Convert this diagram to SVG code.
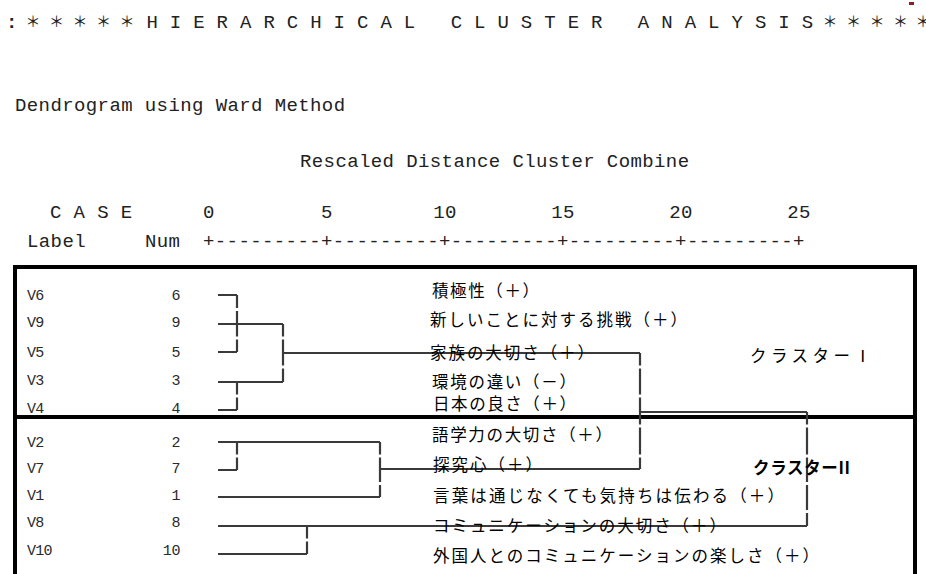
<svg xmlns="http://www.w3.org/2000/svg" width="926" height="574" viewBox="0 0 926 574">
<style>
.mono{font-family:"Liberation Mono","DejaVu Sans Mono",monospace;font-size:19px;letter-spacing:0.4px;fill:#222}
.ttl{font-family:"Liberation Mono","DejaVu Sans Mono",monospace;font-size:19px;letter-spacing:0.3px;fill:#222}
.ast{font-family:"Noto Sans CJK JP",sans-serif;font-size:15px;fill:#222;text-anchor:middle}
.case{font-family:"Liberation Mono","DejaVu Sans Mono",monospace;font-size:15px;letter-spacing:-0.8px;fill:#2a2a2a}
.num{font-family:"Liberation Mono","DejaVu Sans Mono",monospace;font-size:15px;letter-spacing:-0.4px;fill:#2a2a2a;text-anchor:end}
.jp{font-family:"Noto Sans CJK JP",sans-serif;font-size:16.5px;fill:#000}
.tick{text-anchor:middle}
.den{fill:none;stroke:#3a3a3a;stroke-width:2.2}
.frame{fill:none;stroke:#000;stroke-width:4}
</style>
<rect width="926" height="574" fill="#fff"/>
<g id="title">
<text class="ttl" x="6" y="28" font-weight="bold">:</text>
<text class="ast" x="33" y="27">＊</text>
<text class="ast" x="56.5" y="27">＊</text>
<text class="ast" x="80" y="27">＊</text>
<text class="ast" x="103.5" y="27">＊</text>
<text class="ast" x="127" y="27">＊</text>
<text class="ttl" x="146.4" y="28">H&#160;I&#160;E&#160;R&#160;A&#160;R&#160;C&#160;H&#160;I&#160;C&#160;A&#160;L&#160;&#160;&#160;C&#160;L&#160;U&#160;S&#160;T&#160;E&#160;R&#160;&#160;&#160;A&#160;N&#160;A&#160;L&#160;Y&#160;S&#160;I&#160;S</text>
<text class="ast" x="830" y="27">＊</text>
<text class="ast" x="853.5" y="27">＊</text>
<text class="ast" x="877" y="27">＊</text>
<text class="ast" x="900.5" y="27">＊</text>
<text class="ast" x="923" y="27">＊</text>
<rect x="909" y="2" width="5" height="3" fill="#8b1e1e"/>
</g>
<g id="headers">
<text class="mono" x="15" y="111">Dendrogram using Ward Method</text>
<text class="mono" x="300" y="167">Rescaled Distance Cluster Combine</text>
<text class="mono" x="50" y="218">C A S E</text>
<text class="mono tick" x="209" y="218">0</text>
<text class="mono tick" x="327" y="218">5</text>
<text class="mono tick" x="445" y="218">10</text>
<text class="mono tick" x="563" y="218">15</text>
<text class="mono tick" x="681" y="218">20</text>
<text class="mono tick" x="799" y="218">25</text>
<text class="mono" x="27" y="247">Label</text>
<text class="mono" x="145" y="247">Num</text>
<text class="mono" x="203" y="247">+---------+---------+---------+---------+---------+</text>
</g>
<g id="frame">
<rect class="frame" x="15" y="267" width="900" height="330"/>
<line class="frame" x1="15" y1="417" x2="915" y2="417"/>
</g>
<g id="connectors">
<path class="den" d="M218 295H237M218 324H283M218 352H237M218 382H283M218 410H237M283 353H640M218 442H380M218 470H237M218 497H380M380 469H640M218 526H807M218 554H307M640 412H807"/>
<path class="den" d="M237 295V308M237 311V336.5M237 339.5V352M237 382V394.5M237 397.5V410M283 324V336.5M283 339.5V365.5M283 368.5V382M237 442V454.5M237 457.5V470M380 442V454.5M380 457.5V482M380 485V497M307 526V538.5M307 541.5V554M640 353V365.5M640 368.5V394.5M640 397.5V424.5M640 427.5V454.5M640 457.5V469M807 412V424.5M807 427.5V454.5M807 457.5V482M807 485V510M807 513V526"/>
</g>
<g id="V6"><text class="case" x="27" y="300">V6</text><text class="num" x="180" y="300">6</text><text class="jp" x="432" y="297" textLength="107">積極性（＋）</text></g>
<g id="V9"><text class="case" x="27" y="327">V9</text><text class="num" x="180" y="327">9</text><text class="jp" x="430" y="326" textLength="257">新しいことに対する挑戦（＋）</text></g>
<g id="V5"><text class="case" x="27" y="357">V5</text><text class="num" x="180" y="357">5</text><text class="jp" x="430" y="359" textLength="164">家族の大切さ（＋）</text></g>
<g id="V3"><text class="case" x="27" y="385">V3</text><text class="num" x="180" y="385">3</text><text class="jp" x="432" y="388" textLength="144">環境の違い（－）</text></g>
<g id="V4"><text class="case" x="27" y="413">V4</text><text class="num" x="180" y="413">4</text><text class="jp" x="433" y="409.5" textLength="143">日本の良さ（＋）</text></g>
<g id="V2"><text class="case" x="27" y="447">V2</text><text class="num" x="180" y="447">2</text><text class="jp" x="432" y="441" textLength="180">語学力の大切さ（＋）</text></g>
<g id="V7"><text class="case" x="27" y="473">V7</text><text class="num" x="180" y="473">7</text><text class="jp" x="433" y="471" textLength="109">探究心（＋）</text></g>
<g id="V1"><text class="case" x="27" y="500">V1</text><text class="num" x="180" y="500">1</text><text class="jp" x="433" y="502" textLength="351">言葉は通じなくても気持ちは伝わる（＋）</text></g>
<g id="V8"><text class="case" x="27" y="527">V8</text><text class="num" x="180" y="527">8</text><text class="jp" x="433" y="532" textLength="293">コミュニケーションの大切さ（＋）</text></g>
<g id="V10"><text class="case" x="27" y="555">V10</text><text class="num" x="180" y="555">10</text><text class="jp" x="433" y="562" textLength="386">外国人とのコミュニケーションの楽しさ（＋）</text></g>
<g id="cluster1"><text class="jp" x="750" y="362" font-size="18" textLength="121">クラスターⅠ</text></g>
<g id="cluster2"><text class="jp" x="753" y="474" font-size="17" font-weight="bold" textLength="97">クラスターII</text></g>
</svg>
